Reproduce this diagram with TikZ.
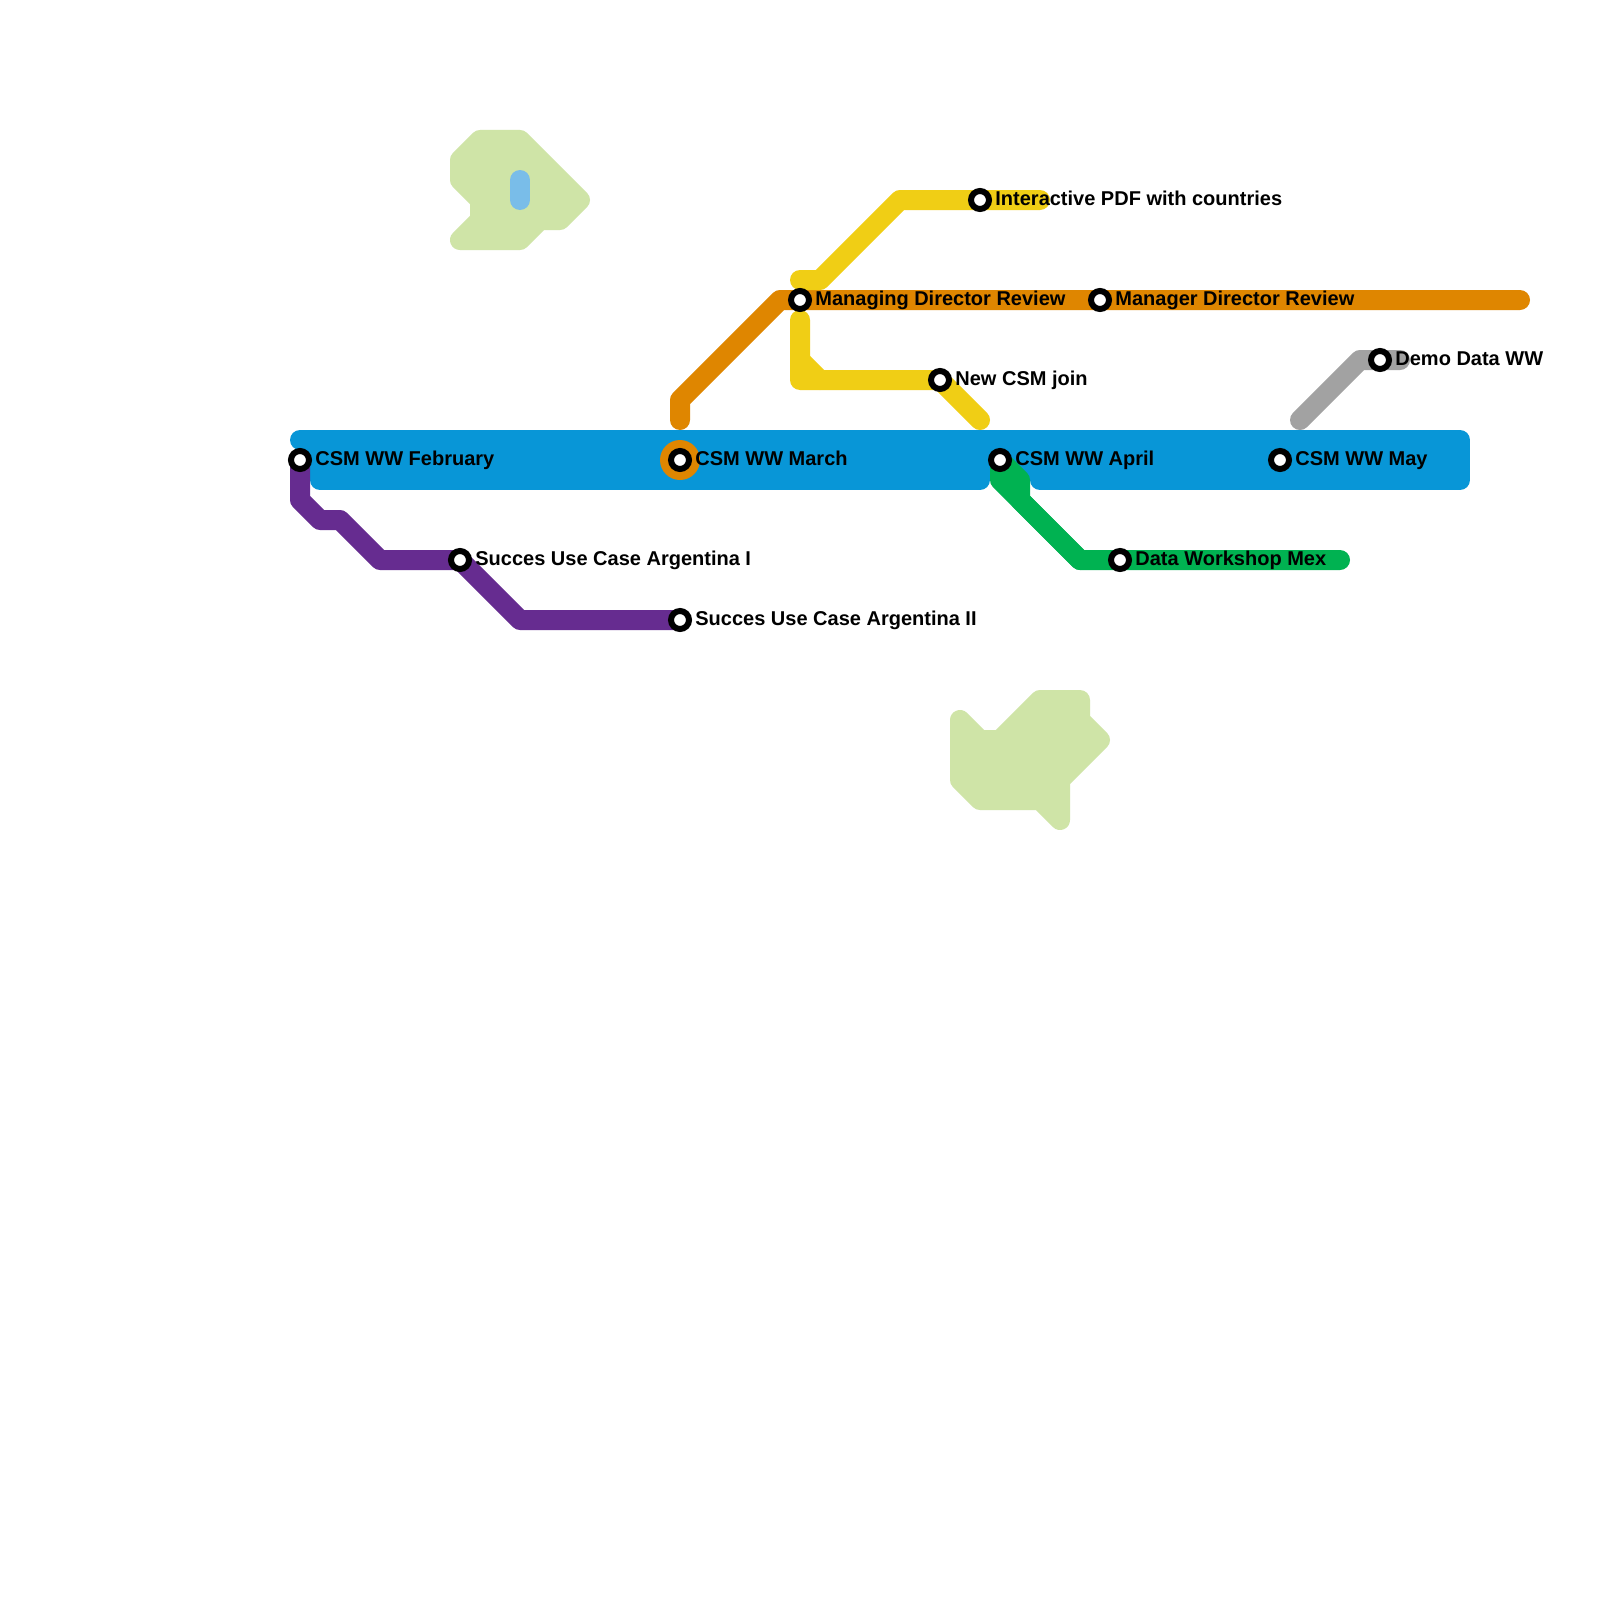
\documentclass[tikz,border=0pt]{standalone}
\usepackage{fontspec}
\setmainfont{Liberation Sans}
\definecolor{cblue}{HTML}{0896D7}
\definecolor{cpurple}{HTML}{662C90}
\definecolor{corange}{HTML}{DF8600}
\definecolor{cyellow}{HTML}{F0CE15}
\definecolor{cgreen}{HTML}{00B251}
\definecolor{cgray}{HTML}{A2A2A2}
\definecolor{cpale}{HTML}{CFE4A7}
\definecolor{csky}{HTML}{79BDE9}
\tikzset{
  metro/.style={line width=10pt,line cap=round,line join=round},
  zone/.style={line width=10pt,line join=round,draw=cpale,fill=cpale},
  stationdot/.style={circle,draw=black,fill=white,line width=3pt,minimum size=9pt,inner sep=0pt,outer sep=0pt},
  ringdot/.style={circle,fill=corange,minimum size=20pt,inner sep=0pt,outer sep=0pt},
  stationlabel/.style={anchor=base west,inner sep=0pt,font=\fontsize{10pt}{12pt}\selectfont\bfseries,text=black}
}
\begin{document}
\begin{tikzpicture}[x=0.5pt,y=-0.5pt]
\useasboundingbox (0,0) rectangle (1600,1600);
\fill[white] (0,0) rectangle (1600,1600);
% named station positions
\coordinate (feb) at (300,460);
\coordinate (mar) at (680,460);
\coordinate (apr) at (1000,460);
\coordinate (may) at (1280,460);
\coordinate (arg1) at (460,560);
\coordinate (arg2) at (680,620);
\coordinate (mdr) at (800,300);
\coordinate (mgr) at (1100,300);
\coordinate (csm) at (940,380);
\coordinate (pdf) at (980,200);
\coordinate (mex) at (1120,560);
\coordinate (demo) at (1380,360);
% pale zones
\draw[zone] (480,140) -- (520,140) -- (580,200) -- (560,220) -- (540,220) -- (520,240) -- (460,240) -- (480,220) -- (480,200) -- (460,180) -- (460,160) -- cycle;
\draw[zone] (1040,700) -- (1080,700) -- (1080,720) -- (1100,740) -- (1060,780) -- (1060,820) -- (1040,800) -- (980,800) -- (960,780) -- (960,720) -- (980,740) -- (1000,740) -- cycle;
\draw[metro,csky] (520,180) -- (520,200);
% blue band
\draw[metro,cblue,fill=cblue] (300,440) -- (1460,440) -- (1460,480) -- (1040,480) -- (1040,470) -- (980,470) -- (980,480) -- (320,480) -- (320,440) -- cycle;
\fill[cblue] (300,440) rectangle (320,460);
% lines
\draw[metro,cpurple] (feb) -- (300,500) -- (320,520) -- (340,520) -- (380,560) -- (arg1) -- (520,620) -- (arg2);
\draw[metro,corange] (680,420) -- (680,400) -- (780,300) -- (mdr) -- (mgr) -- (1520,300);
\draw[metro,cyellow] (800,280) -- (820,280) -- (900,200) -- (pdf) -- (1040,200);
\draw[metro,cyellow] (800,320) -- (800,380) -- (csm) -- (980,420);
\draw[metro,cyellow] (800,360) -- (820,380);
\draw[metro,cgreen] (apr) -- (1000,480) -- (1080,560) -- (mex) -- (1340,560);
\draw[metro,cgreen] (apr) -- (1020,480) -- (1020,500) -- (1080,560);
\draw[metro,cgray] (1300,420) -- (1360,360) -- (demo) -- (1400,360);
% stations
\node[ringdot] (marring) at (mar) {};
\foreach \s/\n in {feb/sfeb,mar/smar,apr/sapr,may/smay,arg1/sarga,arg2/sargb,mdr/smdr,mgr/smgr,csm/scsm,pdf/spdf,mex/smex,demo/sdemo}
  \node[stationdot] (\n) at (\s) {};
% labels
\node[stationlabel] (lfeb) at (315,465.2) {CSM WW February};
\node[stationlabel] (lmar) at (695,465.2) {CSM WW March};
\node[stationlabel] (lapr) at (1015,465.2) {CSM WW April};
\node[stationlabel] (lmay) at (1295,465.2) {CSM WW May};
\node[stationlabel] (larga) at (475,565.2) {Succes Use Case Argentina I};
\node[stationlabel] (largb) at (695,625.2) {Succes Use Case Argentina II};
\node[stationlabel] (lmdr) at (815,305.2) {Managing Director Review};
\node[stationlabel] (lmgr) at (1115,305.2) {Manager Director Review};
\node[stationlabel] (lcsm) at (955,385.2) {New CSM join};
\node[stationlabel] (lpdf) at (995,205.2) {Interactive PDF with countries};
\node[stationlabel] (lmex) at (1135,565.2) {Data Workshop Mex};
\node[stationlabel] (ldemo) at (1395,365.2) {Demo Data WW};
\end{tikzpicture}
\end{document}
